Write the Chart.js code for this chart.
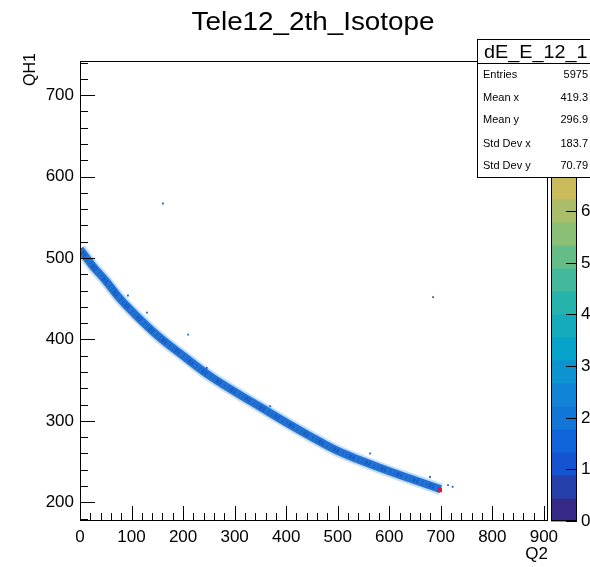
<!DOCTYPE html>
<html>
<head>
<meta charset="utf-8">
<script src="https://cdn.jsdelivr.net/npm/chart.js@4.4.0/dist/chart.umd.min.js"></script>
<style>
  html, body { margin: 0; padding: 0; background: #fff; }
  #wrap { width: 590px; height: 567px; }
</style>
</head>
<body>
<div id="wrap"><canvas id="c" width="590" height="567"></canvas></div>
<script>
// histogram text
const histTitle = 'Tele12_2th_Isotope';
const xTitle = 'Q2';
const yTitle = 'QH1';

// axes
const xTicks = [0, 100, 200, 300, 400, 500, 600, 700, 800, 900];
const yTicks = [200, 300, 400, 500, 600, 700];
const zTicks = [0, 1, 2, 3, 4, 5, 6, 7, 8];
const xRange = [0, 908];
const yRange = [177, 742];
const zRange = [0, 8.9];

// centre of the dE-E band
const bandQ2 = [0, 25, 50, 75, 100, 150, 200, 250, 300, 350, 400, 450, 500, 550, 600, 650, 700];
const bandQH1 = [511, 490, 472, 452, 435, 405, 380, 356, 336, 317, 298, 280, 263, 250, 238, 227, 216];

// isolated counts off the band
const strayQ2 = [161, 685, 210, 130, 93, 714, 723, 563, 679, 369, 246];
const strayQH1 = [567, 452, 406, 433, 454, 221, 219, 260, 231, 318, 365];

// hottest bin
const peakQ2 = [698];
const peakQH1 = [215];

// stats box
const statsName = 'dE_E_12_1';
const statsLabels = ['Entries', 'Mean x', 'Mean y', 'Std Dev x', 'Std Dev y'];
const statsValues = ['5975', '419.3', '296.9', '183.7', '70.79'];

const FONT = "'Liberation Sans', Arial, Helvetica, sans-serif";

// ROOT kBird palette
const birdR = [0.2082, 0.0592, 0.0780, 0.0232, 0.1802, 0.5301, 0.8186, 0.9956, 0.9764];
const birdG = [0.1664, 0.3599, 0.5041, 0.6419, 0.7178, 0.7492, 0.7328, 0.7862, 0.9832];
const birdB = [0.5293, 0.8684, 0.8385, 0.7914, 0.6425, 0.4662, 0.3499, 0.1968, 0.0539];

function bird(f) {
  const p = Math.max(0, Math.min(1, f)) * 8;
  const i = Math.min(7, Math.floor(p));
  const t = p - i;
  const c = (a) => Math.round(255 * (a[i] + (a[i + 1] - a[i]) * t));
  return `rgb(${c(birdR)}, ${c(birdG)}, ${c(birdB)})`;
}

const pts = (xs, ys) => xs.map((x, i) => ({ x, y: ys[i] }));

const rootFrame = {
  id: 'rootFrame',
  afterDraw(chart) {
    const ctx = chart.ctx;
    const a = chart.chartArea;
    const xs = chart.scales.x;
    const ys = chart.scales.y;
    const zs = chart.scales.z;

    ctx.save();
    ctx.strokeStyle = '#000';
    ctx.lineWidth = 1;

    // frame
    ctx.strokeRect(a.left + 0.5, a.top + 0.5, a.right - a.left - 1, a.bottom - a.top - 1);

    // inward ticks, ROOT style
    ctx.beginPath();
    for (let v = 0; v <= xRange[1]; v += 20) {
      const px = Math.round(xs.getPixelForValue(v)) + 0.5;
      const len = v % 100 === 0 ? 15 : 8;
      ctx.moveTo(px, a.bottom);
      ctx.lineTo(px, a.bottom - len);
    }
    for (let v = 180; v <= yRange[1]; v += 20) {
      const py = Math.round(ys.getPixelForValue(v)) + 0.5;
      const len = v % 100 === 0 ? 15 : 8;
      ctx.moveTo(a.left, py);
      ctx.lineTo(a.left + len, py);
    }
    ctx.stroke();

    // colour bar
    const cbL = 551, cbR = 577;
    const nLev = 20;
    const dz = (zRange[1] - zRange[0]) / nLev;
    for (let i = 0; i < nLev; i++) {
      const y0 = zs.getPixelForValue(zRange[0] + i * dz);
      const y1 = zs.getPixelForValue(zRange[0] + (i + 1) * dz);
      ctx.fillStyle = bird(i / (nLev - 1));
      ctx.fillRect(cbL, y1, cbR - cbL, y0 - y1 + 0.5);
    }
    ctx.strokeRect(cbL + 0.5, a.top + 0.5, cbR - cbL - 1, a.bottom - a.top - 1);
    ctx.fillStyle = '#000';
    ctx.font = `17px ${FONT}`;
    ctx.textAlign = 'left';
    ctx.textBaseline = 'middle';
    ctx.beginPath();
    zTicks.forEach((v) => {
      const py = Math.round(zs.getPixelForValue(v)) + 0.5;
      ctx.moveTo(cbR, py);
      ctx.lineTo(cbR - 11, py);
      ctx.fillText(String(v), cbR + 4, py);
    });
    ctx.stroke();

    // title
    ctx.save();
    ctx.font = `26px ${FONT}`;
    ctx.textAlign = 'center';
    ctx.textBaseline = 'alphabetic';
    ctx.translate(313, 30);
    ctx.scale(1.07, 1);
    ctx.fillText(histTitle, 0, 0);
    ctx.restore();

    // axis titles
    ctx.font = `17px ${FONT}`;
    ctx.textAlign = 'right';
    ctx.textBaseline = 'alphabetic';
    ctx.fillText(xTitle, a.right, 559);
    ctx.save();
    ctx.translate(35, 53);
    ctx.rotate(-Math.PI / 2);
    ctx.font = `16px ${FONT}`;
    ctx.fillText(yTitle, 0, 0);
    ctx.restore();

    // stats box
    const bx = 477.5, by = 39.5, bw = 130, bh = 138;
    ctx.fillStyle = '#fff';
    ctx.fillRect(bx, by, bw, bh);
    ctx.strokeRect(bx, by, bw, bh);
    ctx.beginPath();
    ctx.moveTo(bx, 63.5);
    ctx.lineTo(bx + bw, 63.5);
    ctx.stroke();
    ctx.fillStyle = '#000';
    ctx.save();
    ctx.font = `18px ${FONT}`;
    ctx.textAlign = 'left';
    ctx.translate(484, 58);
    ctx.scale(1.1, 1);
    ctx.fillText(statsName, 0, 0);
    ctx.restore();
    ctx.font = `11px ${FONT}`;
    const rowY = [78, 101, 123, 147, 169];
    statsLabels.forEach((lab, i) => {
      ctx.textAlign = 'left';
      ctx.fillText(lab, 483, rowY[i]);
      ctx.textAlign = 'right';
      ctx.fillText(statsValues[i], 588, rowY[i]);
    });

    ctx.restore();
  }
};

new Chart(document.getElementById('c'), {
  type: 'scatter',
  data: {
    datasets: [
      {
        type: 'line',
        data: pts(bandQ2, bandQH1),
        borderColor: 'rgba(70, 150, 225, 0.3)',
        borderWidth: 12,
        pointRadius: 0,
        tension: 0.4,
        clip: 0,
        order: 5
      },
      {
        type: 'line',
        data: pts(bandQ2, bandQH1),
        borderColor: '#2273d3',
        borderWidth: 8,
        pointRadius: 0,
        tension: 0.4,
        clip: 0,
        order: 4
      },
      {
        type: 'line',
        data: pts(bandQ2, bandQH1),
        borderColor: 'rgba(18, 72, 185, 0.55)',
        borderWidth: 4,
        borderDash: [1, 2, 3, 1, 2, 4, 1, 3],
        pointRadius: 0,
        tension: 0.4,
        clip: 0,
        order: 3
      },
      {
        data: pts(strayQ2, strayQH1),
        pointStyle: 'rect',
        pointRadius: 1.3,
        backgroundColor: '#2466c2',
        borderWidth: 0,
        order: 2
      },
      {
        data: pts(peakQ2, peakQH1),
        pointStyle: 'rect',
        pointRadius: 3.2,
        backgroundColor: '#cf1f3a',
        borderWidth: 0,
        order: 1
      }
    ]
  },
  options: {
    responsive: false,
    animation: false,
    events: [],
    layout: { padding: { top: 61, right: 42, bottom: 0, left: 0 } },
    plugins: { legend: { display: false }, tooltip: { enabled: false }, title: { display: false } },
    scales: {
      x: {
        type: 'linear',
        min: xRange[0],
        max: xRange[1],
        grid: { display: false, drawTicks: false },
        border: { display: false },
        afterBuildTicks: (s) => { s.ticks = xTicks.map((v) => ({ value: v })); },
        afterFit: (s) => { s.height = 46; },
        ticks: { color: '#000', font: { family: FONT, size: 17 }, padding: 6, maxRotation: 0, autoSkip: false }
      },
      y: {
        type: 'linear',
        min: yRange[0],
        max: yRange[1],
        grid: { display: false, drawTicks: false },
        border: { display: false },
        afterBuildTicks: (s) => { s.ticks = yTicks.map((v) => ({ value: v })); },
        afterFit: (s) => { s.width = 80; },
        ticks: { color: '#000', font: { family: FONT, size: 17 }, padding: 6, autoSkip: false }
      },
      z: {
        type: 'linear',
        position: 'right',
        display: false,
        min: zRange[0],
        max: zRange[1]
      }
    }
  },
  plugins: [rootFrame]
});
</script>
</body>
</html>
